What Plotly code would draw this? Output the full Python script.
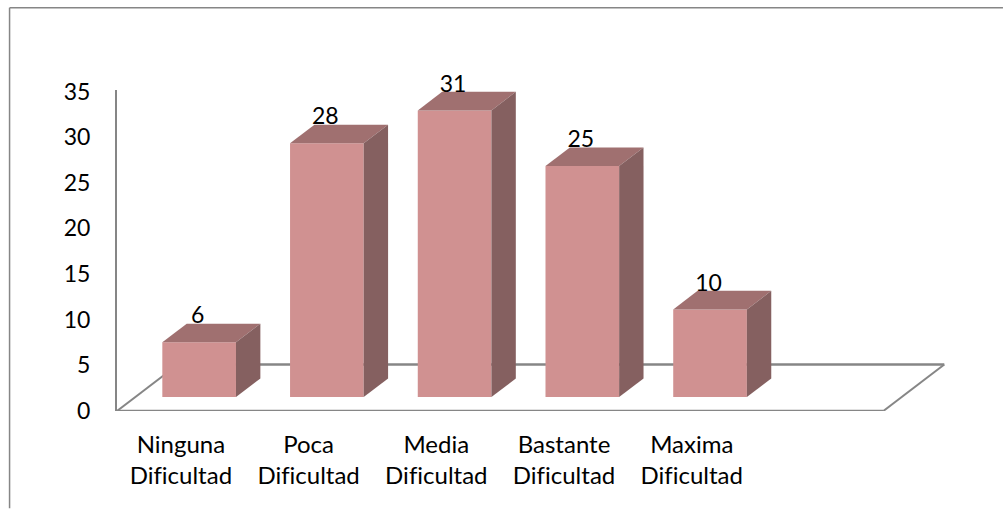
import plotly.graph_objects as go

categories = ["Ninguna<br>Dificultad", "Poca<br>Dificultad", "Media<br>Dificultad",
              "Bastante<br>Dificultad", "Maxima<br>Dificultad"]
values = [6.0, 27.8, 31.4, 25.3, 9.6]
y_ticks = [0, 5, 10, 15, 20, 25, 30, 35]

W, H = 1003, 509
L, R, T, B = 116.5, 950, 90, 411.5
PX_X = 127.8            # pixels per category
PX_Y = 320 / 35         # pixels per value unit
X0 = -0.5
X1 = X0 + (R - L) / PX_X
Y1 = (B - T) / PX_Y

DX = 61 / PX_X          # floor depth, in axis units
DY = 46.5 / PX_Y
BAR_W = 73.7 / PX_X
FRONT = 0.3             # bar's front face along the floor depth
BACK = 0.7

FRONT_C, TOP_C, SIDE_C = "#D09191", "#A07070", "#856060"
LINE_C = "#868686"
TEXT_C = "#000000"
FONT = "Lato"

xs = [i for i in range(len(values))]
base_y = FRONT * DY
cx = [x + FRONT * DX for x in xs]
d_x = (BACK - FRONT) * DX
d_y = (BACK - FRONT) * DY

fig = go.Figure()

fig.add_bar(x=cx, y=values, base=base_y, width=BAR_W, marker=dict(color=FRONT_C, line=dict(width=0)),
            hoverinfo="skip", showlegend=False)

for x, v in zip(cx, values):
    l, r = x - BAR_W / 2, x + BAR_W / 2
    top = v + base_y
    fig.add_scatter(x=[l, r, r + d_x, l + d_x, l], y=[top, top, top + d_y, top + d_y, top],
                    mode="lines", fill="toself", fillcolor=TOP_C, line=dict(width=0),
                    hoverinfo="skip", showlegend=False)
    fig.add_scatter(x=[r, r + d_x, r + d_x, r, r], y=[base_y, base_y + d_y, top + d_y, top, base_y],
                    mode="lines", fill="toself", fillcolor=SIDE_C, line=dict(width=0),
                    hoverinfo="skip", showlegend=False)

LABEL_DROP = 5.5 / PX_Y
fig.add_scatter(x=[x - 1.5 / PX_X for x in cx], y=[v + base_y + d_y - LABEL_DROP for v in values], mode="text",
                text=[f"{v:.0f}" for v in values], textposition="top center",
                textfont=dict(family=FONT, size=23, color=TEXT_C),
                hoverinfo="skip", showlegend=False, cliponaxis=False)

# floor parallelogram, behind the bars
x_end = X0 + 6
floor = [(X0, 0, X0 + DX, DY, 2), (X0 + DX, DY, x_end + DX, DY, 2.5),
         (x_end + DX, DY, x_end, 0, 2), (x_end, 0, X0, 0, 2.5)]
shapes = [dict(type="line", xref="x", yref="y", x0=a, y0=b, x1=c, y1=d, layer="below",
               line=dict(color=LINE_C, width=w)) for a, b, c, d, w in floor]

# outer chart frame: open on the right and bottom
pw, ph = R - L, B - T
shapes += [
    dict(type="line", xref="paper", yref="paper", x0=(9 - L) / pw, x1=(9 - L) / pw,
         y0=(B - H) / ph, y1=(B - 7.5) / ph, line=dict(color=LINE_C, width=1.5)),
    dict(type="line", xref="paper", yref="paper", x0=(9 - L) / pw, x1=(W - L) / pw,
         y0=(B - 7.5) / ph, y1=(B - 7.5) / ph, line=dict(color=LINE_C, width=1.5)),
]

fig.update_layout(
    width=W, height=H, margin=dict(l=L, r=W - R, t=T, b=H - B, pad=0),
    paper_bgcolor="white", plot_bgcolor="white", shapes=shapes, showlegend=False,
    font=dict(family=FONT, size=23, color=TEXT_C),
)
fig.update_xaxes(range=[X0, X1], tickmode="array", tickvals=xs, ticktext=categories,
                 showgrid=False, zeroline=False, showline=False, ticks="", ticklabelstandoff=17,
                 tickfont=dict(family=FONT, size=24, color=TEXT_C))
fig.update_yaxes(range=[0, Y1], tickmode="array", tickvals=y_ticks, showgrid=False, zeroline=False,
                 showline=True, linecolor=LINE_C, linewidth=2, ticks="", ticklabelstandoff=20,
                 tickfont=dict(family=FONT, size=23, color=TEXT_C))

post = ("document.body.style.margin='0';"
        "var s=document.createElement('style');"
        "s.textContent='text{font-variant-ligatures:none !important;font-feature-settings:\"liga\" 0 !important}';"
        "document.head.appendChild(s);")
fig.write_html("out.html", post_script=post, config={"displayModeBar": False})
